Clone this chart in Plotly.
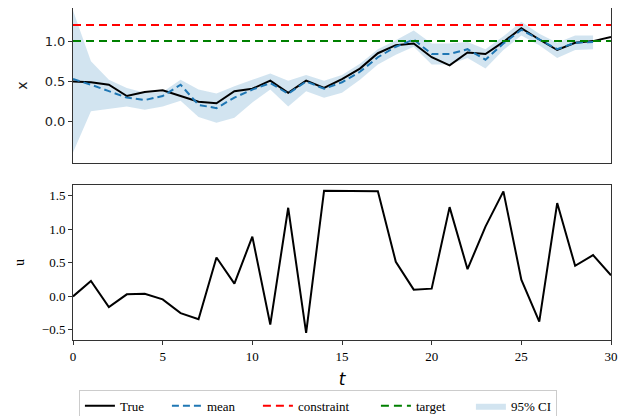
import plotly.graph_objects as go

# ---- data ----
t_true = list(range(31))
x_true = [0.50, 0.49, 0.46, 0.32, 0.37, 0.39, 0.32, 0.25, 0.23, 0.38, 0.41,
          0.51, 0.36, 0.51, 0.42, 0.53, 0.66, 0.85, 0.95, 0.97, 0.80, 0.70,
          0.86, 0.84, 0.99, 1.16, 1.02, 0.89, 0.98, 1.00, 1.05]
t_pred = list(range(30))
x_mean = [0.53, 0.46, 0.38, 0.30, 0.27, 0.32, 0.46, 0.21, 0.17, 0.30, 0.40,
          0.48, 0.35, 0.50, 0.41, 0.49, 0.62, 0.80, 0.93, 1.02, 0.84, 0.84,
          0.90, 0.77, 0.97, 1.14, 1.02, 0.90, 0.98, 0.99]
ci_upper = [1.38, 0.75, 0.52, 0.42, 0.36, 0.37, 0.52, 0.40, 0.35, 0.44, 0.52,
            0.60, 0.51, 0.58, 0.51, 0.58, 0.72, 0.90, 1.01, 1.13, 0.97, 0.97,
            0.99, 0.90, 1.06, 1.24, 1.09, 0.98, 1.07, 1.07]
ci_lower = [-0.38, 0.13, 0.16, 0.19, 0.15, 0.19, 0.26, 0.06, -0.01, 0.05, 0.24,
            0.40, 0.19, 0.38, 0.30, 0.36, 0.52, 0.71, 0.83, 0.93, 0.71, 0.71,
            0.79, 0.66, 0.89, 1.07, 0.95, 0.79, 0.89, 0.90]
constraint = 1.2
target = 1.0
u_true = [0.00, 0.23, -0.16, 0.03, 0.04, -0.045, -0.25, -0.34, 0.58, 0.19, 0.89,
          -0.42, 1.32, -0.545, 1.575, 1.575, 1.565, 1.565, 0.515, 0.10, 0.115,
          1.33, 0.405, 1.04, 1.565, 0.25, -0.375, 1.39, 0.455, 0.615, 0.315]
t_range = [0, 30]
x_ticks = [0, 5, 10, 15, 20, 25, 30]
u_ticks = [-0.5, 0, 0.5, 1.0, 1.5]
u_ticktext = ["\u22120.5", "0.0", "0.5", "1.0", "1.5"]
xs_ticks = [0, 0.5, 1.0]
xs_ticktext = ["0.0", "0.5", "1.0"]

fig = go.Figure()

# CI band (top panel)
fig.add_trace(go.Scatter(
    x=t_pred + t_pred[::-1], y=ci_upper + ci_lower[::-1],
    fill="toself", fillcolor="rgba(31,119,180,0.2)", line=dict(width=0),
    mode="lines", name="95% CI", legendrank=5, legendwidth=40, hoverinfo="skip",
    xaxis="x2", yaxis="y2"))
fig.add_trace(go.Scatter(
    x=t_true, y=x_true, mode="lines", name="True", legendrank=1, legendwidth=42,
    line=dict(color="black", width=2), xaxis="x2", yaxis="y2"))
fig.add_trace(go.Scatter(
    x=t_pred, y=x_mean, mode="lines", name="mean", legendrank=2, legendwidth=46,
    line=dict(color="#1f77b4", width=2, dash="7px,4px"), xaxis="x2", yaxis="y2"))
fig.add_trace(go.Scatter(
    x=t_range, y=[constraint, constraint], mode="lines", name="constraint",
    legendrank=3, legendwidth=73, line=dict(color="red", width=2, dash="8px,5px"),
    xaxis="x2", yaxis="y2"))
fig.add_trace(go.Scatter(
    x=t_range, y=[target, target], mode="lines", name="target",
    legendrank=4, legendwidth=50, line=dict(color="green", width=2, dash="8px,5px"),
    xaxis="x2", yaxis="y2"))
# bottom panel: u
fig.add_trace(go.Scatter(
    x=t_true, y=u_true, mode="lines", name="u", showlegend=False,
    line=dict(color="black", width=2), xaxis="x", yaxis="y"))

axis_common = dict(showline=True, mirror=True, linecolor="#333", linewidth=1,
                   showgrid=False, zeroline=False, ticks="outside", ticklen=4,
                   tickcolor="#333")

fig.update_layout(
    width=630, height=408,
    margin=dict(l=65, r=27, t=0, b=76, autoexpand=False),
    plot_bgcolor="white", paper_bgcolor="white",
    xaxis=dict(domain=[0, 1], range=t_range, tickvals=x_ticks,
               tickfont=dict(family="Liberation Serif", size=13, color="black"),
               title=dict(text="<i>t</i>", font=dict(family="DejaVu Sans", size=17, color="black"), standoff=10),
               anchor="y", **axis_common),
    yaxis=dict(domain=[0, 0.467], range=[-0.65, 1.66],
               tickvals=u_ticks, ticktext=u_ticktext,
               tickfont=dict(family="Liberation Serif", size=13, color="black"),
               title=dict(text="u", font=dict(family="Liberation Serif", size=14, color="black"), standoff=13),
               anchor="x", **axis_common),
    xaxis2=dict(domain=[0, 1], range=t_range, showticklabels=False, ticks="",
                anchor="y2", matches="x", showline=True, mirror=True,
                linecolor="#333", linewidth=1, showgrid=False, zeroline=False),
    yaxis2=dict(domain=[0.533, 1], range=[-0.51, 1.41],
                tickvals=xs_ticks, ticktext=xs_ticktext,
                tickfont=dict(family="DejaVu Sans", size=13, color="#222"),
                title=dict(text="x", font=dict(family="DejaVu Sans", size=14, color="#222"), standoff=13),
                anchor="x2", **axis_common),
    showlegend=True,
    legend=dict(orientation="h", x=0.011, xanchor="left", y=-0.15, yanchor="top",
                bgcolor="white", bordercolor="#ccc", borderwidth=1,
                font=dict(family="Liberation Serif", size=13, color="black"),
                traceorder="normal"),
)

fig.write_html("out.html")
